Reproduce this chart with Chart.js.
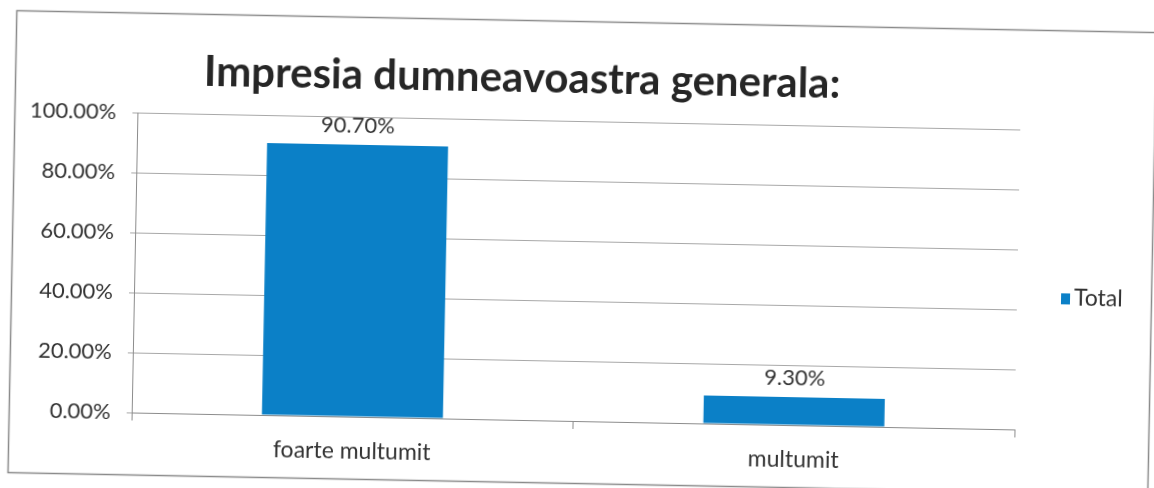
<!DOCTYPE html>
<html>
<head>
<meta charset="utf-8">
<script src="https://cdn.jsdelivr.net/npm/chart.js@4.4.0/dist/chart.umd.min.js"></script>
<style>
  html, body { margin: 0; padding: 0; background: #ffffff; overflow: hidden; }
  #wrap {
    position: absolute; left: 0; top: 0; width: 1154px; height: 488px;
    transform: rotate(1.1deg); transform-origin: 577px 244px;
  }
  canvas { display: block; }
</style>
</head>
<body>
<div id="wrap"><canvas id="c" width="1154" height="488"></canvas></div>
<script>
// Survey result: overall impression
const chartTitle = 'Impresia dumneavoastra generala:';
const categories = ['foarte multumit', 'multumit'];
const seriesName = 'Total';
const totalValues = [90.70, 9.30];
const tickValues = [0, 20, 40, 60, 80, 100];

const BAR_COLOR = '#0b80c7';
const TEXT_COLOR = '#333333';
const GRID_COLOR = '#a8a8a8';
const AXIS_COLOR = '#8c8c8c';
const FONT = 'Lato, "Open Sans", sans-serif';

const pct = v => Number(v).toFixed(2) + '%';

// white page with a thin frame round the chart
const framePlugin = {
  id: 'frame',
  beforeDraw(chart) {
    const ctx = chart.ctx;
    ctx.save();
    ctx.fillStyle = '#ffffff';
    ctx.fillRect(0, 0, chart.width, chart.height);
    ctx.strokeStyle = '#8a8a8a';
    ctx.lineWidth = 1.5;
    ctx.strokeRect(12.5, 21.5, 1140, 462);
    ctx.restore();
  }
};

// bold heading above the plot
const headingPlugin = {
  id: 'heading',
  afterDraw(chart) {
    const ctx = chart.ctx;
    ctx.save();
    ctx.font = 'bold 42px ' + FONT;
    ctx.fillStyle = '#262626';
    ctx.textAlign = 'center';
    ctx.textBaseline = 'middle';
    ctx.fillText(chartTitle, 519, 79);
    ctx.restore();
  }
};

// value printed above each bar
const valueLabelPlugin = {
  id: 'valueLabels',
  afterDatasetsDraw(chart) {
    const ctx = chart.ctx;
    ctx.save();
    ctx.font = '22px ' + FONT;
    ctx.fillStyle = TEXT_COLOR;
    ctx.textAlign = 'center';
    ctx.textBaseline = 'middle';
    chart.data.datasets.forEach((ds, di) => {
      chart.getDatasetMeta(di).data.forEach((bar, i) => {
        ctx.fillText(pct(ds.data[i]), bar.x, bar.y - 19);
      });
    });
    ctx.restore();
  }
};

// series key on the right
const keyPlugin = {
  id: 'seriesKey',
  afterDraw(chart) {
    const ctx = chart.ctx;
    const ds = chart.data.datasets[0];
    ctx.save();
    ctx.fillStyle = ds.backgroundColor;
    ctx.fillRect(1062, 284, 9, 11);
    ctx.font = '23px ' + FONT;
    ctx.fillStyle = TEXT_COLOR;
    ctx.textAlign = 'left';
    ctx.textBaseline = 'middle';
    ctx.fillText(ds.label, 1075, 289);
    ctx.restore();
  }
};

new Chart(document.getElementById('c'), {
  type: 'bar',
  data: {
    labels: categories,
    datasets: [{
      label: seriesName,
      data: totalValues,
      backgroundColor: BAR_COLOR,
      borderWidth: 0,
      barPercentage: 0.41,
      categoryPercentage: 1.0
    }]
  },
  options: {
    responsive: false,
    devicePixelRatio: 1,
    animation: false,
    layout: { padding: { top: 121, right: 136, left: 0, bottom: 0 } },
    plugins: {
      legend: { display: false },
      title: { display: false },
      tooltip: { enabled: false }
    },
    scales: {
      x: {
        afterFit(scale) { scale.height = 67; },
        grid: {
          offset: true,
          drawOnChartArea: false,
          drawTicks: true,
          tickLength: 8,
          color: AXIS_COLOR
        },
        border: { display: true, color: AXIS_COLOR, width: 1 },
        ticks: {
          color: TEXT_COLOR,
          font: { family: FONT, size: 23 },
          padding: 13,
          maxRotation: 0
        }
      },
      y: {
        min: 0,
        max: 100,
        afterFit(scale) { scale.width = 135; },
        afterBuildTicks(scale) { scale.ticks = tickValues.map(v => ({ value: v })); },
        grid: {
          color: GRID_COLOR,
          lineWidth: 1,
          drawTicks: true,
          tickLength: 5
        },
        border: { display: true, color: AXIS_COLOR, width: 1 },
        ticks: {
          color: TEXT_COLOR,
          font: { family: FONT, size: 22 },
          padding: 16,
          callback: v => pct(v)
        }
      }
    }
  },
  plugins: [framePlugin, headingPlugin, valueLabelPlugin, keyPlugin]
});
</script>
</body>
</html>
